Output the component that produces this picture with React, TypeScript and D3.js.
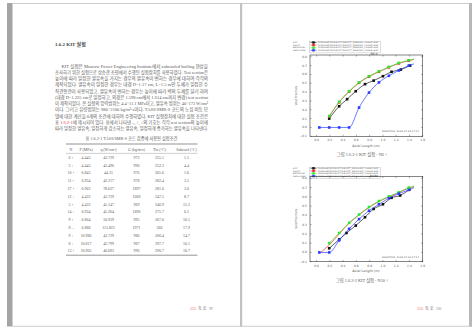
import React from 'react';
import * as d3 from 'd3';

// ---- page text ----
const heading = '1.6.2   KIT 실험';
const paraLines = [
  'KIT 실험은 Moscow Power Engineering Institute에서 subcooled boiling 현상을',
  '조사하기 위한 실험으로 상승관 조영에서 수행된 실험장치를 사용하였다. Test section은',
  '높이에 따라 일정한 열유속을 가지는 경우와 열유속이 변하는 경우에 대하여 각각의',
  '제작되었다. 열유속이 일정한 경우는 내경 D=1.17 cm, L=1.5 m인 두께가 일정한 수',
  '직관형관이 사용되었고, 열유속이 변하는 경우는 높이에 따라 벽의 두께를 달리 하여',
  '(내경 D=1.225 cm로 일정하고, 외경은 1.598 cm에서 1.614 cm까지 변경) test section',
  '이 제작되었다. 본 실험의 압력범위는 4.4~11.1 MPa이고, 열유속 범위는 40~173 W/cm²',
  '이다. 그리고 유량범위는 980~2100 kg/m²·s이다. TASS/SMR-S 코드의 노심 비등 모',
  '델에 대한 계산을 8개의 조건에 대하여 수행하였다. KIT 실험장치에 대한 실험 조건은',
  '||에 제시되어 있다. 표에서 나타낸 –, ↑, ↓의 기호는 각각 test section의 높이에',
  '따라 일정한 열유속, 일정하게 감소하는 열유속, 일정하게 증가하는 열유속을 나타낸다.',
];
const tableCaption = '표 1.6.2-1 TASS/SMR-S 코드 검증에 사용된 실험조건';
const tableHeader = ['N', 'P (MPa)', 'q (W/cm²)', 'G (kg/m²s)', 'Tin (°C)', 'Subcool (°C)'];
const tableRows = [
  ['6 ↑', '4.443', '43.729', '973', '255.1', '1.5'],
  ['3 ↓', '4.443', '43.496', '990', '252.3', '4.4'],
  ['10 ↑', '6.843', '44.31', '976', '265.6', '1.6'],
  ['11 ↑', '6.934', '42.217', '978', '282.4', '3.5'],
  ['27 ↑', '6.963', '78.637', '1897', '281.6', '3.6'],
  ['12 ↓', '4.433', '43.729', '1068', '247.5', '8.7'],
  ['5 ↑', '4.433', '45.147', '969', '240.9', '15.3'],
  ['14 ↓', '6.934', '45.264', '1896', '275.7', '6.5'],
  ['9 ↑', '6.864', '50.939', '995', '267.6', '16.5'],
  ['8 –', '6.886', '113.823', '1971', '266', '17.9'],
  ['9 ↓', '10.986', '43.729', '986', '300.4', '14.7'],
  ['8 ↓', '10.817', '42.799', '987', '297.7', '16.1'],
  ['13 ↑', '10.905', '40.693', '990', '290.7', '16.7'],
];

// ---- chart data ----
const xTicks = [0, 0.2, 0.4, 0.6, 0.8, 1.0, 1.2, 1.4, 1.6];
const yTicks = [-0.1, 0, 0.1, 0.2, 0.3, 0.4, 0.5, 0.6, 0.7, 0.8];
const legendNames = ['EXP', 'RELAP', 'Bartolomei', 'Saha-Zuber'];
const seriesColors = ['#111111', '#ff2020', '#2ee82e', '#2a3cff'];

// chart 1 (N6)
const c1BlackX = [0.19, 0.34, 0.46, 0.59, 0.73, 0.86, 1.0, 1.13, 1.27, 1.41];
const c1BlackY = [0.10, 0.24, 0.32, 0.41, 0.49, 0.53, 0.58, 0.63, 0.655, 0.70];
const c1RedX = [0.19, 0.34, 0.49, 0.64, 0.79, 0.94, 1.09, 1.24, 1.39, 1.47];
const c1RedY = [0.125, 0.285, 0.405, 0.505, 0.575, 0.63, 0.68, 0.725, 0.755, 0.77];
const c1GreenX = [0.19, 0.34, 0.49, 0.64, 0.79, 0.94, 1.09, 1.24, 1.39, 1.47];
const c1GreenY = [0.13, 0.29, 0.41, 0.51, 0.58, 0.635, 0.685, 0.73, 0.76, 0.775];
const c1BlueX = [0.04, 0.19, 0.34, 0.49, 0.64, 0.79, 0.94, 1.09, 1.24, 1.39, 1.47];
const c1BlueY = [0, 0, 0, 0, 0.225, 0.395, 0.51, 0.585, 0.645, 0.70, 0.72];

// chart 2 (N10)
const c2BlackX = [0.19, 0.34, 0.45, 0.59, 0.73, 0.86, 1.0, 1.13, 1.26, 1.40];
const c2BlackY = [0.045, 0.14, 0.21, 0.29, 0.38, 0.47, 0.52, 0.59, 0.615, 0.68];
const c2RedX = [0.06, 0.19, 0.34, 0.49, 0.64, 0.79, 0.94, 1.09, 1.24, 1.39, 1.47];
const c2RedY = [0, 0.08, 0.2, 0.315, 0.405, 0.485, 0.55, 0.6, 0.645, 0.695, 0.71];
const c2GreenX = [0.19, 0.34, 0.49, 0.64, 0.79, 0.94, 1.09, 1.24, 1.39, 1.47];
const c2GreenY = [0.10, 0.21, 0.32, 0.41, 0.49, 0.555, 0.605, 0.65, 0.70, 0.715];
const c2BlueX = [0.04, 0.19, 0.34, 0.49, 0.64, 0.79, 0.94, 1.09, 1.24, 1.39, 1.47];
const c2BlueY = [0, 0, 0.13, 0.255, 0.36, 0.45, 0.52, 0.585, 0.635, 0.675, 0.70];

const serif = "'Liberation Serif', 'DejaVu Serif', 'Noto Sans CJK KR', serif";
const sans = "'DejaVu Sans', 'Noto Sans CJK KR', sans-serif";
const fmt = d3.format('.1f');
const textCol = '#5a5a5a';

type Series = { xs: number[]; ys: number[]; markers: number };

function Chart({ top, bottom, legendTop, title, caption, series }: {
  top: number; bottom: number; legendTop: number; title: string; caption: string; series: Series[];
}) {
  const x = d3.scaleLinear().domain([-0.1, 1.6]).range([310, 422.7]);
  const y = d3.scaleLinear().domain([-0.1, 0.82]).range([bottom, top]);
  const line = d3.line<[number, number]>()
    .x(d => x(d[0]))
    .y(d => y(d[1]))
    .curve(d3.curveMonotoneX);
  const rowH = 2.6;
  return (
    <g>
      {/* legend */}
      <rect x={309.5} y={legendTop - 1.5} width={71} height={rowH * 4 + 0.8} fill="#fff" stroke="#aaa" strokeWidth={0.4} />
      {legendNames.map((n, i) => (
        <g key={n}>
          <text x={293} y={legendTop + i * rowH} fontSize={2.2} fontFamily={sans} fill="#666">{n}</text>
          <line x1={310.5} x2={316.5} y1={legendTop + i * rowH - 0.7} y2={legendTop + i * rowH - 0.7} stroke={seriesColors[i]} strokeWidth={0.6} />
          <rect x={312.3} y={legendTop + i * rowH - 1.9} width={2.4} height={2.4} fill={seriesColors[i]} />
          <text x={318} y={legendTop + i * rowH} fontSize={2.1} fontFamily={sans} fill="#666" textLength={60} lengthAdjust="spacingAndGlyphs">
            {`Dataset/2014/07/16/KIT_${title.replace(' ', '')}/kit_case${i + 1}.dat`}
          </text>
        </g>
      ))}
      {/* plot box */}
      <rect x={310} y={top} width={112.7} height={bottom - top} fill="none" stroke="#333" strokeWidth={0.6} />
      {xTicks.map(t => (
        <g key={'x' + t}>
          <line x1={x(t)} x2={x(t)} y1={bottom} y2={bottom - 1.6} stroke="#333" strokeWidth={0.4} />
          <line x1={x(t)} x2={x(t)} y1={top} y2={top + 1.6} stroke="#333" strokeWidth={0.4} />
          <text x={x(t)} y={bottom + 5} fontSize={3} fontFamily={sans} fill={textCol} textAnchor="middle">{fmt(t)}</text>
        </g>
      ))}
      {yTicks.map(t => (
        <g key={'y' + t}>
          <line x1={310} x2={311.6} y1={y(t)} y2={y(t)} stroke="#333" strokeWidth={0.4} />
          <line x1={422.7} x2={421.1} y1={y(t)} y2={y(t)} stroke="#333" strokeWidth={0.4} />
          <text x={307} y={y(t) + 1} fontSize={3} fontFamily={sans} fill={textCol} textAnchor="end">{fmt(t)}</text>
        </g>
      ))}
      <text x={374} y={top + 0.2} fontSize={3} fontFamily={sans} fill="#444" textAnchor="middle">{title}</text>
      {/* series */}
      {series.map((s, i) => {
        const pts = s.xs.map((v, k) => [v, s.ys[k]] as [number, number]);
        return (
          <g key={i}>
            <path d={line(pts) || ''} fill="none" stroke={seriesColors[i]} strokeWidth={0.8} opacity={0.85} />
            {pts.slice(0, s.markers).map((p, k) => (
              <rect key={k} x={x(p[0]) - 1.3} y={y(p[1]) - 1.3} width={2.6} height={2.6} fill={seriesColors[i]} />
            ))}
          </g>
        );
      })}
      <text x={419} y={bottom - 4} fontSize={2.5} fontFamily={sans} fill={textCol} textAnchor="end">Date/Time: 2014-07-16 17:17</text>
      <text x={297.5} y={(top + bottom) / 2} fontSize={3} fontFamily={sans} fill={textCol} textAnchor="middle"
        transform={`rotate(-90 ${297.5} ${(top + bottom) / 2})`}>Void Fraction</text>
      <text x={366} y={bottom + 10.5} fontSize={3.3} fontFamily={sans} fill={textCol} textAnchor="middle">Axial Length (m)</text>
      <text x={362} y={bottom + 20} fontSize={4.3} fontFamily={serif} fill={textCol} textAnchor="middle">{caption}</text>
    </g>
  );
}

export default function App() {
  const colX = [71, 86, 108.5, 136.5, 159.5, 186.5];
  const rowY0 = 158.8;
  const rowStep = 7.8;
  return (
    <svg width={472} height={329} style={{ position: 'absolute', left: 0, top: 0, background: '#fff' }}>
      <rect x={0} y={0} width={472} height={329} fill="#fff" />
      {/* page frame */}
      <rect x={7} y={3} width={5.5} height={323.5} fill="#a4a4a4" />
      <rect x={12} y={3} width={460} height={0.9} fill="#c8c8c8" />
      <rect x={12} y={325.8} width={460} height={0.9} fill="#c8c8c8" />
      <rect x={240} y={3} width={2.2} height={323.5} fill="#c2c2c2" />
      <rect x={469} y={3} width={3} height={323.5} fill="#b8b8b8" />

      {/* left page */}
      <text x={55} y={46} fontSize={5} fontWeight="bold" fontFamily={serif} fill="#444">{heading}</text>
      {paraLines.map((l, i) => {
        const yy = 67.5 + i * 6.25;
        const x0 = i === 0 ? 61.5 : 55;
        if (l.startsWith('||')) {
          return (
            <text key={i} x={x0} y={yy} fontSize={4.3} fontFamily={serif} fill={textCol} textLength={153} lengthAdjust="spacingAndGlyphs">
              표 <tspan fill="#e03030">1.6.2-1</tspan>{l.slice(2)}
            </text>
          );
        }
        return (
          <text key={i} x={x0} y={yy} fontSize={4.3} fontFamily={serif} fill={textCol} textLength={208 - x0} lengthAdjust="spacingAndGlyphs">{l}</text>
        );
      })}
      <text x={131.5} y={139.5} fontSize={4.2} fontFamily={serif} fill={textCol} textAnchor="middle">{tableCaption}</text>
      <line x1={66} x2={197.5} y1={144} y2={144} stroke="#666" strokeWidth={0.7} />
      {tableHeader.map((h, i) => (
        <text key={h} x={colX[i]} y={150.8} fontSize={3.9} fontFamily={serif} fill={textCol} textAnchor="middle">{h}</text>
      ))}
      <line x1={66} x2={197.5} y1={153.4} y2={153.4} stroke="#888" strokeWidth={0.4} />
      {tableRows.map((r, ri) => r.map((c, ci) => (
        <text key={ri + '-' + ci} x={colX[ci]} y={rowY0 + ri * rowStep} fontSize={3.9} fontFamily={serif} fill={textCol} textAnchor="middle">{c}</text>
      )))}
      <line x1={66} x2={197.5} y1={255.2} y2={255.2} stroke="#666" strokeWidth={0.7} />
      <text x={190} y={310} fontSize={4.2} fontFamily={serif} fill="#e85050">115</text>
      <text x={198} y={310} fontSize={4} fontFamily={serif} fill="#666">독 후</text>
      <text x={209} y={310} fontSize={3.6} fontFamily={serif} fill="#888">99</text>

      {/* right page */}
      <Chart top={55} bottom={136.3} legendTop={43.2} title="N6 d" caption="그림 1.6.2-1 KIT 실험 - N6 ↑"
        series={[
          { xs: c1BlackX, ys: c1BlackY, markers: 10 },
          { xs: c1RedX, ys: c1RedY, markers: 9 },
          { xs: c1GreenX, ys: c1GreenY, markers: 9 },
          { xs: c1BlueX, ys: c1BlueY, markers: 10 },
        ]} />
      <Chart top={176.5} bottom={261.7} legendTop={169} title="N10u" caption="그림 1.6.2-2 KIT 실험 - N10 ↑"
        series={[
          { xs: c2BlackX, ys: c2BlackY, markers: 10 },
          { xs: c2RedX, ys: c2RedY, markers: 0 },
          { xs: c2GreenX, ys: c2GreenY, markers: 9 },
          { xs: c2BlueX, ys: c2BlueY, markers: 10 },
        ]} />
      <text x={417} y={310} fontSize={4.2} fontFamily={serif} fill="#e85050">115</text>
      <text x={425} y={310} fontSize={4} fontFamily={serif} fill="#666">독 후</text>
      <text x={436} y={310} fontSize={3.6} fontFamily={serif} fill="#888">100</text>
    </svg>
  );
}
